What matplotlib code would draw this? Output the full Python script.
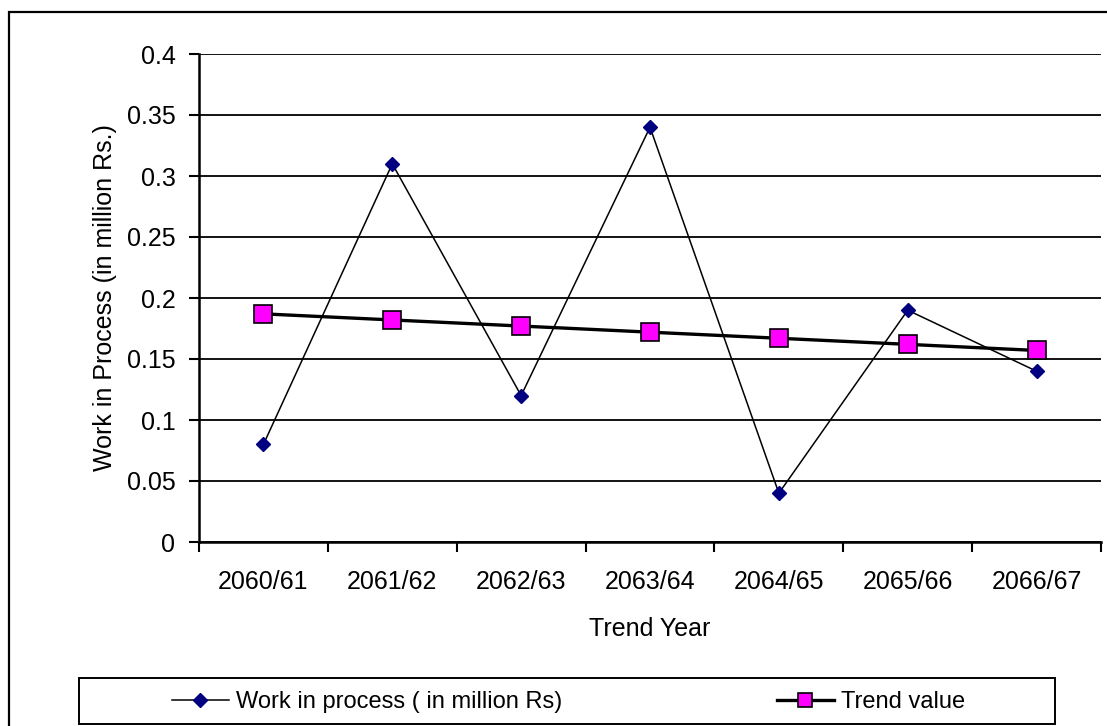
import matplotlib
matplotlib.use("Agg")
import matplotlib.pyplot as plt
from matplotlib.lines import Line2D
from matplotlib.patches import Rectangle

plt.rcParams['font.family'] = ['Liberation Sans', 'DejaVu Sans']

# Data
years = ["2060/61", "2061/62", "2062/63", "2063/64", "2064/65", "2065/66", "2066/67"]
work_in_process = [0.08, 0.31, 0.12, 0.34, 0.04, 0.19, 0.14]
trend_value = [0.187, 0.182, 0.177, 0.172, 0.167, 0.162, 0.157]
y_ticks = [0, 0.05, 0.1, 0.15, 0.2, 0.25, 0.3, 0.35, 0.4]
y_tick_labels = ["0", "0.05", "0.1", "0.15", "0.2", "0.25", "0.3", "0.35", "0.4"]

W, H = 1107, 726
fig = plt.figure(figsize=(W / 100, H / 100), dpi=100)
fig.patch.set_facecolor("white")

ax = fig.add_axes([199 / W, 1 - 542 / H, (1101 - 199) / W, (542 - 54) / H])
x = list(range(len(years)))

ax.plot(x, work_in_process, color="black", lw=1.1, marker="D", markersize=7.5,
        markerfacecolor="#000080", markeredgecolor="#000080", zorder=3)
ax.plot(x, trend_value, color="black", lw=2.4, marker="s", markersize=12.5,
        markerfacecolor="#FF00FF", markeredgecolor="black", markeredgewidth=1.2, zorder=4)

ax.set_xlim(-0.5, len(years) - 0.5)
ax.set_ylim(0, 0.4)

# Category boundaries carry the tick marks, labels sit between them
ax.set_xticks([i - 0.5 for i in range(len(years) + 1)])
ax.set_xticklabels([])
ax.set_xticks(x, minor=True)
ax.set_xticklabels(years, minor=True)
ax.tick_params(axis="x", which="major", direction="out", length=7, width=1.5, color="black")
ax.tick_params(axis="x", which="minor", length=0, pad=20.5, labelsize=18)

ax.set_yticks(y_ticks)
ax.set_yticklabels(y_tick_labels)
ax.tick_params(axis="y", direction="out", length=7, width=1.5, pad=10, labelsize=18)

ax.yaxis.grid(True, color="black", lw=1.3)
ax.set_axisbelow(True)

for side in ("top", "right"):
    ax.spines[side].set_visible(False)
for side in ("left", "bottom"):
    ax.spines[side].set_linewidth(1.8)
    ax.spines[side].set_color("black")

ax.set_xlabel("Trend Year", fontsize=18, labelpad=16)
ax.set_ylabel("Work in Process (in million Rs.)", fontsize=18, labelpad=7)

# Outer chart frame
fig.patches.append(Rectangle((9 / W, -0.1), 1.2, 1 - 12 / H + 0.1, transform=fig.transFigure,
                             fill=False, edgecolor="black", lw=1.6, clip_on=False))

# Legend box
fig.patches.append(Rectangle((79 / W, 1 - 724 / H), (1055 - 79) / W, (724 - 678) / H,
                             transform=fig.transFigure, fill=False, edgecolor="black", lw=1.4))

h_work = Line2D([], [], color="black", lw=1.1, marker="D", markersize=7.5,
                markerfacecolor="#000080", markeredgecolor="#000080")
h_trend = Line2D([], [], color="black", lw=2.4, marker="s", markersize=9.5,
                 markerfacecolor="#FF00FF", markeredgecolor="black", markeredgewidth=1.2)

y_leg = 1 - 702 / H
common = dict(loc="center left", frameon=False, fontsize=17, handlelength=2.4,
              handletextpad=0.3, borderpad=0, borderaxespad=0)
fig.legend([h_work], ["Work in process ( in million Rs)"], bbox_to_anchor=(172 / W, y_leg), **common)
fig.legend([h_trend], ["Trend value"], bbox_to_anchor=(777 / W, y_leg), **common)

fig.savefig("out.png", dpi=100)
